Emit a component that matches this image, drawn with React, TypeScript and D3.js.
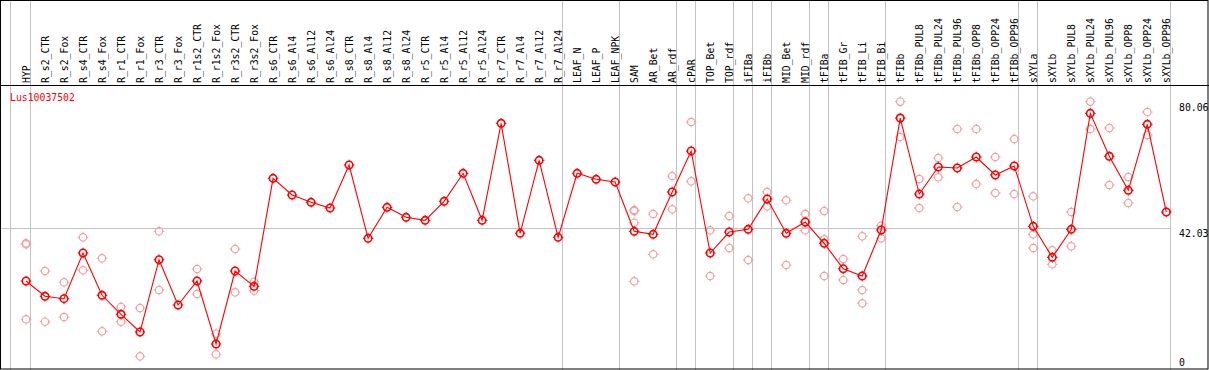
import * as d3 from "d3";

const WIDTH = 1209;
const HEIGHT = 370;

const geneName = "Lus10037502";

const labels = [
  "HYP",
  "R_s2_CTR", "R_s2_Fox", "R_s4_CTR", "R_s4_Fox", "R_r1_CTR", "R_r1_Fox", "R_r3_CTR", "R_r3_Fox",
  "R_r1s2_CTR", "R_r1s2_Fox", "R_r3s2_CTR", "R_r3s2_Fox",
  "R_s6_CTR", "R_s6_Al4", "R_s6_Al12", "R_s6_Al24",
  "R_s8_CTR", "R_s8_Al4", "R_s8_Al12", "R_s8_Al24",
  "R_r5_CTR", "R_r5_Al4", "R_r5_Al12", "R_r5_Al24",
  "R_r7_CTR", "R_r7_Al4", "R_r7_Al12", "R_r7_Al24",
  "LEAF_N", "LEAF_P", "LEAF_NPK",
  "SAM", "AR_Bet", "AR_rdf",
  "cPAR",
  "TOP_Bet", "TOP_rdf",
  "iFIBa",
  "iFIBb",
  "MID_Bet", "MID_rdf",
  "tFIBa",
  "tFIB_Gr", "tFIB_Li", "tFIB_Bi",
  "tFIBb", "tFIBb_PUL8", "tFIBb_PUL24", "tFIBb_PUL96", "tFIBb_OPP8", "tFIBb_OPP24", "tFIBb_OPP96",
  "sXYLa",
  "sXYLb", "sXYLb_PUL8", "sXYLb_PUL24", "sXYLb_PUL96", "sXYLb_OPP8", "sXYLb_OPP24", "sXYLb_OPP96",
];

// number of columns in each tissue group, separated by grey lines
const groupSizes = [1, 28, 3, 3, 1, 2, 1, 1, 2, 1, 3, 7, 1, 7];

// mean expression per sample
const meanValues = [
  26.24,
  21.66, 20.94, 34.64, 21.96, 16.26, 10.95, 32.63, 19.05,
  26.24, 7.35, 29.24, 24.65,
  57.05, 52.04, 49.85, 48.14,
  61.04, 39.05, 48.35, 45.35,
  44.45, 50.15, 58.55, 44.45,
  73.55, 40.55, 62.45, 39.35,
  58.55, 56.75, 55.94,
  41.15, 40.25, 52.94,
  65.24,
  34.64, 40.94,
  41.75,
  50.84,
  40.55, 43.94,
  37.55,
  29.93, 27.74, 41.54,
  75.13, 52.34, 60.44, 60.14, 63.44, 58.04, 60.74,
  42.65,
  33.35, 41.75, 76.54, 63.65, 53.45, 73.24, 46.94,
];

// individual replicates per sample
const replicates: number[][] = [
  [37.55, 37.25, 14.76],
  [29.24, 14.04], [25.85, 15.45], [39.35, 29.45], [33.05, 11.16], [18.45, 14.04], [18.15, 3.66], [41.15, 23.55], [],
  [29.84, 22.35], [10.44, 4.26], [35.84, 22.86], [26.03, 23.34],
  [], [], [], [],
  [], [], [], [],
  [], [], [], [],
  [], [], [], [],
  [], [], [],
  [47.54, 47.24, 43.73, 26.15], [46.34, 34.25], [57.74, 47.75],
  [73.94, 56.15],
  [41.45, 27.74], [45.74, 36.14],
  [51.05, 32.54],
  [52.94, 48.65],
  [50.45, 31.04], [46.34, 41.45],
  [47.24, 38.75, 27.74],
  [32.84, 26.54], [39.65, 23.55, 19.56], [42.83, 39.05],
  [80.06, 69.44], [56.84, 48.14], [63.14, 57.35], [71.84, 48.44], [71.84, 55.34], [63.44, 52.64], [68.84, 52.34],
  [51.65, 40.25, 36.14],
  [35.45, 31.25], [46.94, 36.65], [80.06, 71.84], [72.14, 55.04], [57.44, 49.64], [76.93, 70.04], [],
];

const yTicks = [80.06, 42.03, 0];
const averageLine = 42.03;

const MONO = "'DejaVu Sans Mono', monospace";
const FONT = `9.8px ${MONO}`;
const HEADER_BOTTOM = 85;
const PLOT_RIGHT = 1171;

function Marker({ cx, cy, colour, width }: { cx: number; cy: number; colour: string; width: number }) {
  const r = 3.7;
  const t = 1.6;
  return (
    <g stroke={colour} strokeWidth={width} fill="none">
      <circle cx={cx} cy={cy} r={r} />
      <line x1={cx} x2={cx} y1={cy - r - t} y2={cy - r} strokeWidth={1} />
      <line x1={cx} x2={cx} y1={cy + r} y2={cy + r + t} strokeWidth={1} />
      <line x1={cx - r - t} x2={cx - r} y1={cy} y2={cy} strokeWidth={1} />
      <line x1={cx + r} x2={cx + r + t} y1={cy} y2={cy} strokeWidth={1} />
    </g>
  );
}

export default function App() {
  const x = d3.scalePoint<string>().domain(labels).range([26, 1166.3]);
  const y = d3.scaleLinear().domain([0, 80.06]).range([368.5, 101.6]);

  // separator lines sit just right of the last label in each group
  const separators: number[] = [10.5];
  let idx = -1;
  groupSizes.forEach((n) => {
    idx += n;
    separators.push(Math.round(x(labels[idx])! + 4) + 0.5);
  });

  const line = d3
    .line<number>()
    .x((_, i) => x(labels[i])!)
    .y((d) => y(d));

  return (
    <svg
      width={WIDTH}
      height={HEIGHT}
      style={{ position: "absolute", left: 0, top: 0, background: "#fff" }}
    >
      {separators.map((sx, i) => (
        <line key={i} x1={sx} x2={sx} y1={0} y2={HEIGHT} stroke="#c4c4c4" strokeWidth={1} />
      ))}

      <line
        x1={1}
        x2={PLOT_RIGHT}
        y1={Math.round(y(averageLine)) + 0.5}
        y2={Math.round(y(averageLine)) + 0.5}
        stroke="#c4c4c4"
      />

      {/* header */}
      {labels.map((l) => (
        <text
          key={l}
          transform={`translate(${x(l)! + 3.5}, 83) rotate(-90)`}
          style={{ font: FONT }}
          fill="#000"
        >
          {l}
        </text>
      ))}
      <line x1={0} x2={WIDTH} y1={HEADER_BOTTOM + 0.5} y2={HEADER_BOTTOM + 0.5} stroke="#000" />

      <text x={10} y={101} fill="#ff0000" style={{ font: FONT }}>
        {geneName}
      </text>

      {yTicks.map((t) => (
        <text
          key={t}
          x={1179}
          y={t === 0 ? 365.5 : Math.round(y(t)) + 8.5}
          fill="#000"
          style={{ font: FONT }}
        >
          {t === 0 ? "0" : t.toFixed(2)}
        </text>
      ))}

      {replicates.map((reps, i) =>
        reps.map((v, j) => (
          <Marker key={`${i}-${j}`} cx={x(labels[i])!} cy={y(v)} colour="#f2a0a0" width={1.2} />
        )),
      )}

      <path d={line(meanValues) ?? ""} fill="none" stroke="#ff0000" strokeWidth={1.1} />

      {meanValues.map((v, i) => (
        <Marker key={i} cx={x(labels[i])!} cy={y(v)} colour="#ff0000" width={1.6} />
      ))}

      <rect x={0.5} y={0.5} width={WIDTH - 1.5} height={HEIGHT - 1.5} fill="none" stroke="#000" />
    </svg>
  );
}
